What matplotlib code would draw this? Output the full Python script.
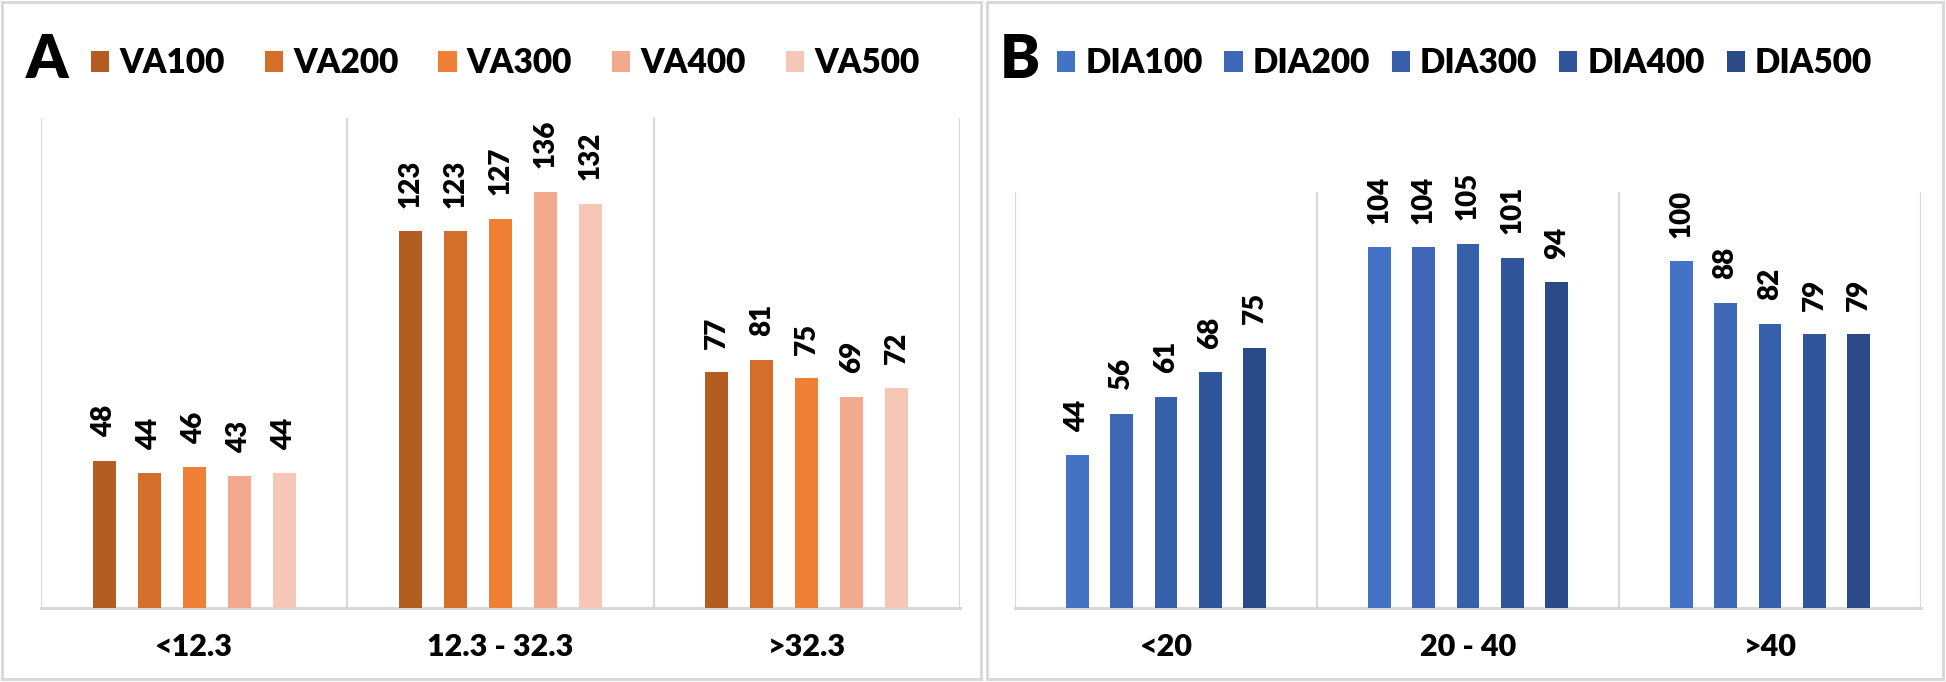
import numpy as np
import matplotlib
matplotlib.use("Agg")
import matplotlib.pyplot as plt
from matplotlib.patches import Rectangle

plt.rcParams["font.family"] = ["Lato", "DejaVu Sans"]

# Panel A data
va_groups = ["<12.3", "12.3 - 32.3", ">32.3"]
va_series = ["VA100", "VA200", "VA300", "VA400", "VA500"]
va_values = [
    [48, 123, 77],
    [44, 123, 81],
    [46, 127, 75],
    [43, 136, 69],
    [44, 132, 72],
]
va_colors = ["#B35D23", "#D36E2B", "#EE7F34", "#F3A98B", "#F6C6B6"]

# Panel B data
dia_groups = ["<20", "20 - 40", ">40"]
dia_series = ["DIA100", "DIA200", "DIA300", "DIA400", "DIA500"]
dia_values = [
    [44, 104, 100],
    [56, 104, 88],
    [61, 105, 82],
    [68, 101, 79],
    [75, 94, 79],
]
dia_colors = ["#4472C4", "#3E67B6", "#3760AB", "#30559B", "#2B4B88"]

GRID = "#D9D9D9"
W, H = 1946, 682

fig = plt.figure(figsize=(W / 100, H / 100), dpi=100)


def px_box(left, top, right, bottom):
    # pixel box -> figure fraction [l, b, w, h]
    return [left / W, 1 - bottom / H, (right - left) / W, (bottom - top) / H]


def draw_panel(ax, groups, series, values, colors, ymax,
               legend_x, colspace, letter, letter_x):
    x = np.arange(len(groups))
    pitch = 0.147
    width = 0.075
    handles = []
    for i, (name, vals, col) in enumerate(zip(series, values, colors)):
        pos = x + (i - 2) * pitch
        bars = ax.bar(pos, vals, width, color=col, label=name, zorder=3)
        handles.append(bars)
        for xp, v in zip(pos, vals):
            ax.annotate(str(v), xy=(xp, v), xytext=(0, 17),
                        textcoords="offset points", rotation=90,
                        ha="center", va="bottom", fontsize=20,
                        fontweight="heavy")

    ax.set_xlim(-0.5, len(groups) - 0.5)
    ax.set_ylim(0, ymax)
    ax.vlines(np.arange(len(groups) + 1) - 0.5, 0, ymax, color=GRID,
              linewidth=1.6, zorder=1)
    for s in ["top", "left", "right"]:
        ax.spines[s].set_visible(False)
    ax.spines["bottom"].set_color(GRID)
    ax.spines["bottom"].set_linewidth(2.2)
    ax.set_yticks([])
    ax.set_xticks(x)
    ax.set_xticklabels(groups, fontsize=22, fontweight="heavy")
    ax.tick_params(axis="x", length=0, pad=18)

    ax.legend(handles, series, loc="center left",
              bbox_to_anchor=(legend_x / W, 1 - 63 / H),
              bbox_transform=fig.transFigure, ncol=5, frameon=False,
              prop={"size": 24, "weight": "heavy"},
              handlelength=0.55, handleheight=0.6, handletextpad=0.3,
              columnspacing=colspace, borderpad=0, borderaxespad=0)

    fig.text(letter_x / W, 1 - 60 / H, letter, fontsize=43,
             fontweight="heavy", ha="left", va="center")


ax_a = fig.add_axes(px_box(41, 118, 960, 608))
draw_panel(ax_a, va_groups, va_series, va_values, va_colors, 160,
           91, 1.2, "A", 26)

ax_b = fig.add_axes(px_box(1015, 192, 1921, 608))
draw_panel(ax_b, dia_groups, dia_series, dia_values, dia_colors, 120,
           1057, 0.65, "B", 1000)

# light grey frames round each panel
for l, r in [(2, 981), (987, 1943)]:
    fig.patches.append(Rectangle((l / W, 1 - 679 / H), (r - l) / W,
                                 677 / H, transform=fig.transFigure,
                                 fill=False, edgecolor=GRID, linewidth=2.2))

fig.savefig("out.png", dpi=100)
